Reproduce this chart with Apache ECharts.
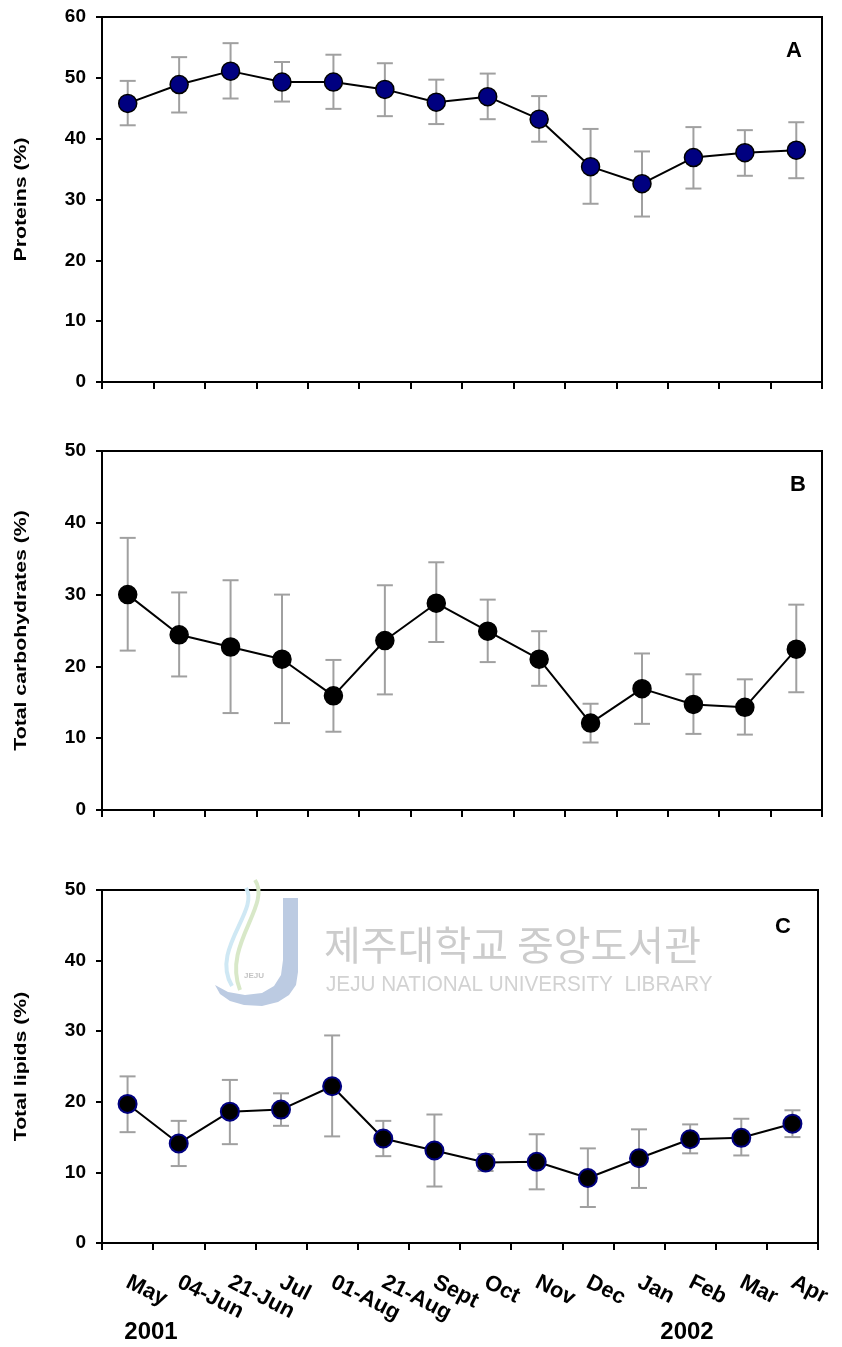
<!DOCTYPE html>
<html>
<head>
<meta charset="utf-8">
<script src="https://cdn.jsdelivr.net/npm/echarts@6/dist/echarts.min.js"></script>
<style>
  html, body { margin: 0; padding: 0; background: #fff; }
  #chart { width: 842px; height: 1347px; }
</style>
</head>
<body>
<div id="chart"></div>
<script>
// Sampling dates (May 2001 – Apr 2002)
const categories = ['May', '04-Jun', '21-Jun', 'Jul', '01-Aug', '21-Aug', 'Sept', 'Oct', 'Nov', 'Dec', 'Jan', 'Feb', 'Mar', 'Apr'];

// A: proteins (%), mean with lower / upper error-bar ends
const proteins     = [45.8, 48.9, 51.1, 49.3, 49.3, 48.1, 46.0, 46.9, 43.2, 35.4, 32.6, 36.9, 37.7, 38.1];
const proteinsLow  = [42.2, 44.3, 46.6, 46.1, 44.9, 43.7, 42.4, 43.2, 39.5, 29.3, 27.2, 31.8, 33.9, 33.5];
const proteinsHigh = [49.5, 53.4, 55.7, 52.6, 53.8, 52.4, 49.7, 50.7, 47.0, 41.6, 37.9, 41.9, 41.4, 42.7];

// B: total carbohydrates (%)
const carbs     = [30.0, 24.4, 22.7, 21.0, 15.9, 23.6, 28.8, 24.9, 21.0, 12.1, 16.9, 14.7, 14.3, 22.4];
const carbsLow  = [22.2, 18.6, 13.5, 12.1, 10.9, 16.1, 23.4, 20.6, 17.3,  9.4, 12.0, 10.6, 10.5, 16.4];
const carbsHigh = [37.9, 30.3, 32.0, 30.0, 20.9, 31.3, 34.5, 29.3, 24.9, 14.8, 21.8, 18.9, 18.2, 28.6];

// C: total lipids (%)
const lipids     = [19.7, 14.1, 18.6, 18.9, 22.2, 14.8, 13.1, 11.4, 11.5,  9.2, 12.0, 14.7, 14.9, 16.9];
const lipidsLow  = [15.7, 10.9, 14.0, 16.6, 15.1, 12.3,  8.0, 10.2,  7.6,  5.1,  7.8, 12.7, 12.4, 15.0];
const lipidsHigh = [23.6, 17.3, 23.1, 21.2, 29.4, 17.3, 18.2, 12.6, 15.4, 13.4, 16.1, 16.8, 17.6, 18.8];

// Axis settings
const yMax = [60, 50, 50];
const yTitles = ['Proteins (%)', 'Total carbohydrates (%)', 'Total lipids (%)'];
const panelLetters = ['A', 'B', 'C'];
const years = ['2001', '2002'];

const FONT = '"Liberation Sans", Arial, Helvetica, sans-serif';

const grids = [
  { left: 102, top: 17,  width: 720, height: 365 },
  { left: 102, top: 451, width: 720, height: 359 },
  { left: 102, top: 890, width: 716, height: 353 }
];

const markerStyles = [
  { color: '#000080', borderColor: '#000000', borderWidth: 1.5 },
  { color: '#000000', borderColor: '#000000', borderWidth: 1.5 },
  { color: '#000000', borderColor: '#000080', borderWidth: 2 }
];

const means = [proteins, carbs, lipids];
const lows = [proteinsLow, carbsLow, lipidsLow];
const highs = [proteinsHigh, carbsHigh, lipidsHigh];

function errorBarItem(params, api) {
  const x = api.value(0);
  const lo = api.coord([x, api.value(1)]);
  const hi = api.coord([x, api.value(2)]);
  const half = 8;
  const style = { stroke: '#a0a0a0', lineWidth: 2 };
  return {
    type: 'group',
    children: [
      { type: 'line', shape: { x1: lo[0], y1: lo[1], x2: hi[0], y2: hi[1] }, style: style },
      { type: 'line', shape: { x1: hi[0] - half, y1: hi[1], x2: hi[0] + half, y2: hi[1] }, style: style },
      { type: 'line', shape: { x1: lo[0] - half, y1: lo[1], x2: lo[0] + half, y2: lo[1] }, style: style }
    ]
  };
}

const xAxes = grids.map((g, i) => ({
  type: 'category',
  gridIndex: i,
  data: categories,
  boundaryGap: true,
  axisLine: { lineStyle: { color: '#000', width: 2 } },
  axisTick: { show: true, length: 7, lineStyle: { color: '#000', width: 2 } },
  axisLabel: i === 2 ? {
    show: true,
    interval: 0,
    rotate: -27,
    margin: 38,
    color: '#000',
    fontFamily: FONT,
    fontWeight: 'bold',
    fontSize: 22
  } : { show: false },
  splitLine: { show: false }
}));

const yAxes = grids.map((g, i) => ({
  type: 'value',
  gridIndex: i,
  min: 0,
  max: yMax[i],
  interval: 10,
  axisLine: { show: true, lineStyle: { color: '#000', width: 2 } },
  axisTick: { show: true, length: 6, lineStyle: { color: '#000', width: 2 } },
  axisLabel: { color: '#000', fontFamily: FONT, fontWeight: 'bold', fontSize: 19, margin: 16 },
  splitLine: { show: false }
}));

const series = [];
grids.forEach((g, i) => {
  series.push({
    type: 'custom',
    xAxisIndex: i,
    yAxisIndex: i,
    renderItem: errorBarItem,
    encode: { x: 0, y: [1, 2] },
    data: categories.map((c, k) => [k, lows[i][k], highs[i][k]]),
    z: 1,
    silent: true
  });
  series.push({
    type: 'line',
    xAxisIndex: i,
    yAxisIndex: i,
    data: means[i],
    symbol: 'circle',
    symbolSize: 18,
    lineStyle: { color: '#000', width: 2 },
    itemStyle: markerStyles[i],
    z: 3,
    silent: true
  });
});

// Library watermark drawn faintly inside panel C
const logoJ = [[283, 898], [298, 898], [298, 972], [296, 985], [289, 995], [278, 1002], [262, 1006], [244, 1005],
  [230, 1001], [220, 994], [215, 985], [228, 992], [245, 995], [262, 993], [274, 986], [281, 975], [283, 960]];
const watermark = [
  {
    type: 'polygon',
    shape: { points: logoJ },
    style: { fill: '#bccbe2' },
    z: 0
  },
  {
    type: 'bezierCurve',
    shape: { x1: 255, y1: 880, cpx1: 272, cpy1: 905, cpx2: 222, cpy2: 945, x2: 240, y2: 990 },
    style: { fill: null, stroke: '#d8e8c8', lineWidth: 4 },
    z: 0
  },
  {
    type: 'bezierCurve',
    shape: { x1: 246, y1: 888, cpx1: 260, cpy1: 910, cpx2: 210, cpy2: 950, x2: 232, y2: 986 },
    style: { fill: null, stroke: '#cfe8f4', lineWidth: 4 },
    z: 0
  },
  {
    type: 'text',
    left: 244, top: 972,
    style: { text: 'JEJU', fill: '#c4c4c4', font: 'bold 8px ' + FONT },
    z: 0
  },
  {
    type: 'text',
    left: 324, top: 925,
    style: { text: '제주대학교 중앙도서관', fill: '#cccccc', font: '40px "Noto Sans CJK KR", sans-serif' },
    z: 0
  },
  {
    type: 'text',
    x: 326, y: 974,
    scaleX: 0.94,
    style: { text: 'JEJU NATIONAL UNIVERSITY  LIBRARY', fill: '#d2d2d2', font: '22px ' + FONT },
    z: 0
  }
];

// Vertical axis titles, stretched along their length
const titles = yTitles.map((t, i) => ({
  type: 'text',
  x: 21,
  y: grids[i].top + grids[i].height / 2,
  rotation: Math.PI / 2,
  scaleX: 1.25,
  style: { text: t, fill: '#000', font: 'bold 17px ' + FONT, textAlign: 'center', textVerticalAlign: 'middle' },
  z: 10
}));

const letterPos = [[794, 51], [798, 485], [783, 927]];
const letters = panelLetters.map((t, i) => ({
  type: 'text',
  x: letterPos[i][0], y: letterPos[i][1],
  style: { text: t, fill: '#000', font: 'bold 22px ' + FONT, textAlign: 'center', textVerticalAlign: 'middle' },
  z: 10
}));

const yearPos = [[151, 1332], [687, 1332]];
const yearLabels = years.map((t, i) => ({
  type: 'text',
  x: yearPos[i][0], y: yearPos[i][1],
  style: { text: t, fill: '#000', font: 'bold 24px ' + FONT, textAlign: 'center', textVerticalAlign: 'middle' },
  z: 10
}));

const chart = echarts.init(document.getElementById('chart'), null, { renderer: 'canvas' });
chart.setOption({
  backgroundColor: '#ffffff',
  animation: false,
  grid: grids.map(g => Object.assign({ show: true, borderColor: '#000', borderWidth: 2, backgroundColor: 'transparent', containLabel: false }, g)),
  xAxis: xAxes,
  yAxis: yAxes,
  series: series,
  graphic: watermark.concat(titles, letters, yearLabels)
});
</script>
</body>
</html>
